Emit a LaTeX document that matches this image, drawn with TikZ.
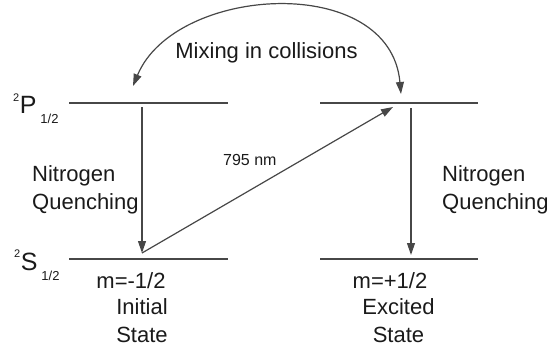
\documentclass[tikz,border=0pt]{standalone}
\usepackage{fontspec}
\setmainfont{Liberation Sans}
\usetikzlibrary{arrows.meta}
\definecolor{linec}{HTML}{474747}
\definecolor{textc}{HTML}{1A1A1A}
\begin{document}
\begin{tikzpicture}[x=1pt,y=-1pt,
  level/.style={draw=linec,line width=1.3pt},
  arr/.style={draw=linec,line width=1.2pt,-{Triangle[length=12pt,width=8pt]}},
  lbl/.style={inner sep=0pt,text=textc,font=\fontsize{22}{27.5}\selectfont},
  small/.style={inner sep=0pt,text=textc,font=\fontsize{16}{19}\selectfont}]
\useasboundingbox (0,0) rectangle (550,351);
% level coordinates
\coordinate (PLa) at (69,103);  \coordinate (PLb) at (228,103);
\coordinate (PRa) at (320,103); \coordinate (PRb) at (478,103);
\coordinate (SLa) at (69,259);  \coordinate (SLb) at (228,259);
\coordinate (SRa) at (320,259); \coordinate (SRb) at (478,259);
\draw[level] (PLa) -- (PLb);
\draw[level] (PRa) -- (PRb);
\draw[level] (SLa) -- (SLb);
\draw[level] (SRa) -- (SRb);
% arrow end points
\coordinate (qLs) at (142,107); \coordinate (qLe) at (142,253);
\coordinate (qRs) at (411,108); \coordinate (qRe) at (411,255);
\coordinate (lasE) at (393,107);
\coordinate (mixL) at (133,86); \coordinate (mixR) at (401,94);
\draw[arr] (qLs) -- (qLe);
\draw[arr] (qRs) -- (qRe);
\draw[arr] (qLe) -- (lasE);
\draw[draw=linec,line width=1.2pt,{Triangle[length=12pt,width=8pt]}-{Triangle[length=12pt,width=8pt]}]
  (mixL) .. controls (175,-15) and (390,-28) .. (mixR);
% labels
\node[lbl,anchor=base] (mix) at (266.5,58) {Mixing in collisions};
\node[small,anchor=base west] (nm) at (223,165) {795 nm};
\node[lbl,anchor=base west,align=left] (nqL) at (32,209) {Nitrogen\\Quenching};
\node[lbl,anchor=base west,align=left] (nqR) at (442,209) {Nitrogen\\Quenching};
\node[lbl,anchor=base] (mL) at (131,288) {m=-1/2};
\node[lbl,anchor=base] (mR) at (390,288) {m=+1/2};
\node[lbl,anchor=base,align=center] (stL) at (142,342) {Initial\\State};
\node[lbl,anchor=base,align=center] (stR) at (398.5,342) {Excited\\State};
\node[inner sep=0pt,text=textc,anchor=base west,font=\fontsize{25}{25}\selectfont] (P) at (13,113)
  {\raisebox{12pt}{\fontsize{11}{11}\selectfont 2}\hspace{0.5pt}P\hspace{4pt}\raisebox{-10.5pt}{\fontsize{13}{13}\selectfont 1/2}};
\node[inner sep=0pt,text=textc,anchor=base west,font=\fontsize{25}{25}\selectfont] (S) at (14,270)
  {\raisebox{12.5pt}{\fontsize{11}{11}\selectfont 2}\hspace{0.5pt}S\hspace{4pt}\raisebox{-10pt}{\fontsize{13}{13}\selectfont 1/2}};
\end{tikzpicture}
\end{document}
